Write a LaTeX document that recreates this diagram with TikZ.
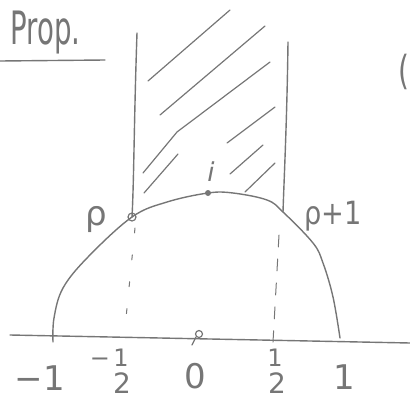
\documentclass[tikz,border=0pt]{standalone}
\usepackage{fontspec}
\setmainfont{DejaVu Sans}
\definecolor{pen}{HTML}{767676}
\begin{document}
\begin{tikzpicture}[x=1pt,y=-1pt,line cap=round,line join=round,
  ink/.style={draw=pen,line width=1.4pt},
  hatch/.style={draw=pen,line width=1.2pt},
  lbl/.style={text=pen,font=\fontsize{34}{36}\selectfont,inner sep=0pt},
  small/.style={text=pen,font=\fontsize{24}{26}\selectfont,inner sep=0pt},
  two/.style={text=pen,font=\fontsize{28}{30}\selectfont,inner sep=0pt,anchor=base},
  dashln/.style={draw=pen,line width=1pt,dash pattern=on 5pt off 22pt},
  dashlnb/.style={draw=pen,line width=1pt,dash pattern=on 12pt off 12pt}]
\useasboundingbox (0,0) rectangle (410,399);
% title
\node[text=pen,font=\fontsize{46}{48}\selectfont,inner sep=0pt,anchor=base west] (prop) at (10,44) {\scalebox{0.6}[1]{Prop.}};
\coordinate (ul1) at (0,61);
\coordinate (ul2) at (105,60);
\draw[ink] (ul1) -- (ul2);
\node[text=pen,font=\fontsize{40}{42}\selectfont,inner sep=0pt] (paren) at (404,72) {\scalebox{0.7}[1]{(}};
% axis
\coordinate (ax1) at (10,335);
\coordinate (ax2) at (410,343);
\draw[ink] (ax1) -- (ax2);
% arc
\coordinate (m1) at (53,342);
\coordinate (rho) at (132,217);
\coordinate (ii) at (208,193);
\coordinate (rr) at (283,212);
\coordinate (p1) at (340,338);
\draw[ink] plot[smooth,tension=0.6] coordinates {(m1) (54,318) (63,288) (88,257) (rho) (167,202) (ii) (233,193) (267,200) (rr) (313,243) (323,263) (333,297) (p1)};
% vertical lines
\coordinate (lt) at (137,33);
\coordinate (rt) at (288,42);
\draw[ink] (lt) .. controls (134,120) and (134,180) .. (rho);
\draw[ink] (rt) .. controls (287,120) and (284,180) .. (rr);
% dashed lines
\coordinate (ld1) at (135,228);
\coordinate (ld2) at (126,318);
\draw[dashln] (ld1) -- (ld2);
\coordinate (rd1) at (279,235);
\coordinate (rd2) at (273,342);
\draw[dashlnb] (rd1) -- (rd2);
% hatching
\draw[hatch] (148,81) -- (230,10);
\draw[hatch] (160,115) -- (265,26);
\draw[hatch] (143,173) -- (177,132) -- (270,62);
\draw[hatch] (227,143) -- (275,107);
\draw[hatch] (144,193) -- (178,154);
\draw[hatch] (230,174) -- (263,145);
\draw[hatch] (245,192) -- (275,163);
% points
\draw[draw=pen,line width=1.2pt] (rho) circle (4);
\fill[pen] (ii) circle (3);
\coordinate (o) at (199,334);
\draw[draw=pen,line width=1.2pt] (o) circle (3.5);
\draw[draw=pen,line width=1.2pt] (196,337) -- (192,345);
% labels
\node[lbl,anchor=base] (rholbl) at (96,225) {ρ};
\node[small,font=\fontsize{26}{28}\selectfont,anchor=base] (ilbl) at (211,181) {\textit{i}};
\node[text=pen,font=\fontsize{32}{34}\selectfont,inner sep=0pt,anchor=base] (rho1lbl) at (333,224) {\scalebox{0.85}[1]{ρ+1}};
\node[lbl,anchor=base] (lm1) at (40,390) {−1};
\node[small] (lmm) at (100,362) {−};
\node[small] (lmh1) at (121,358) {1};
\node[two] (lmh2) at (122,393) {2};
\node[lbl,anchor=base] (l0) at (195,388) {0};
\node[small] (lh1) at (275,358) {1};
\node[two] (lh2) at (277,393) {2};
\node[lbl,anchor=base] (l1) at (344,389) {1};
\end{tikzpicture}
\end{document}
